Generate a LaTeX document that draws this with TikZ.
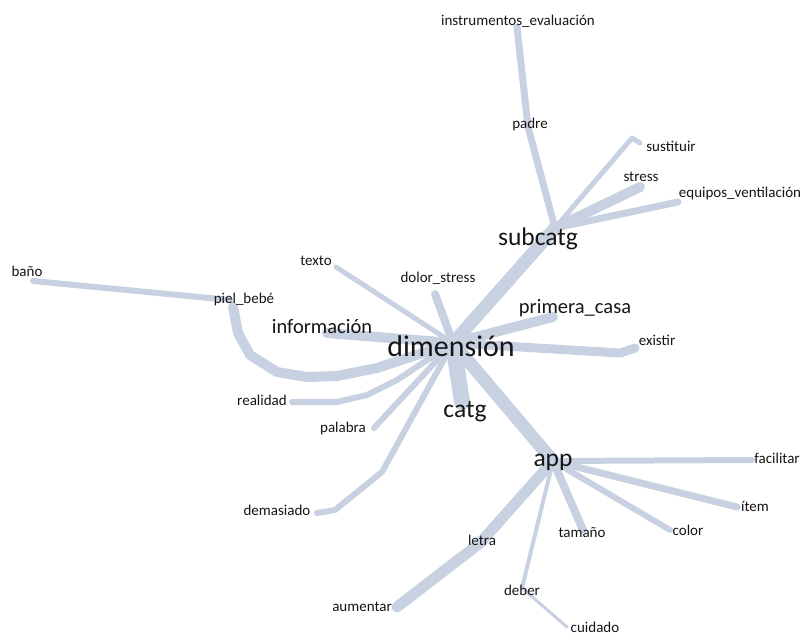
\documentclass[tikz,border=0pt]{standalone}
\usepackage{fontspec}
\setmainfont{Carlito}
\definecolor{edgec}{HTML}{C8D1E1}
\definecolor{txtc}{HTML}{151515}
\tikzset{
  conn/.style={draw=edgec, line cap=round, line join=round},
  lbl/.style={text=txtc, inner sep=0pt, anchor=base, yshift=-3.5pt, font=\fontsize{15}{15}\selectfont},
  lblm/.style={text=txtc, inner sep=0pt, anchor=base, yshift=-4.8pt, font=\fontsize{20.5}{20.5}\selectfont},
  lblb/.style={text=txtc, inner sep=0pt, anchor=base, yshift=-6pt, font=\fontsize{25.5}{25.5}\selectfont},
  lblh/.style={text=txtc, inner sep=0pt, anchor=base, yshift=-7pt, font=\fontsize{30}{30}\selectfont},
}
\begin{document}
\begin{tikzpicture}[x=1pt,y=-1pt]
\useasboundingbox (0,0) rectangle (805,637);
% hubs and end points
\coordinate (H) at (453,343);
\coordinate (A) at (553,461);
\coordinate (S) at (555,228);
\coordinate (eTexto) at (336,267);
\coordinate (eDolor) at (435,294);
\coordinate (eInfo) at (327,333);
\coordinate (eBebe) at (233,307);
\coordinate (eBebeTop) at (230,300);
\coordinate (eBano) at (33,281);
\coordinate (eReal) at (292,402);
\coordinate (ePal) at (374,428);
\coordinate (eDem) at (317,513);
\coordinate (eCatg) at (462,402);
\coordinate (ePrim) at (553,317);
\coordinate (eExist) at (635,348);
\coordinate (eFac) at (752,460);
\coordinate (eItem) at (737,507);
\coordinate (eColor) at (670,530);
\coordinate (eTam) at (583,530);
\coordinate (eDeber) at (522,588);
\coordinate (eLetra) at (480,543);
\coordinate (eAum) at (397,607);
\coordinate (eCuid) at (567,627);
\coordinate (ePadre) at (528,127);
\coordinate (eInstr) at (517,27);
\coordinate (eSust) at (640,143);
\coordinate (eStress) at (640,187);
\coordinate (eEquip) at (678,202);

% connectors from dimension
\draw[conn, line width=5] (H) -- (eTexto);
\draw[conn, line width=8] (H) -- (eDolor);
\draw[conn, line width=10] (H) -- (eInfo);
\draw[conn, line width=10] (H) -- (377,368) -- (337,376) -- (307,377) -- (277,372) -- (250,355) -- (238,333) -- (eBebe);
\draw[conn, line width=6] (eBebeTop) -- (eBano);
\draw[conn, line width=6] (H) -- (397,380) -- (367,395) -- (337,402) -- (eReal);
\draw[conn, line width=6] (H) -- (ePal);
\draw[conn, line width=6] (H) -- (382,472) -- (335,510) -- (eDem);
\draw[conn, line width=16] (H) -- (eCatg);
\draw[conn, line width=13] (H) -- (A);
\draw[conn, line width=13] (H) -- (S);
\draw[conn, line width=10] (H) -- (ePrim);
\draw[conn, line width=9] (H) -- (620,353) -- (eExist);
% connectors from app
\draw[conn, line width=6] (A) -- (eFac);
\draw[conn, line width=7] (A) -- (eItem);
\draw[conn, line width=6] (A) -- (eColor);
\draw[conn, line width=8] (A) -- (eTam);
\draw[conn, line width=4] (A) -- (eDeber);
\draw[conn, line width=11] (A) -- (eLetra) -- (eAum);
\draw[conn, line width=3] (eDeber) -- (eCuid);
% connectors from subcatg
\draw[conn, line width=7] (S) -- (ePadre) -- (eInstr);
\draw[conn, line width=5] (S) -- (632,138) -- (eSust);
\draw[conn, line width=10] (S) -- (eStress);
\draw[conn, line width=7] (S) -- (eEquip);

% labels
\node[lbl] (bano) at (27,273) {baño};
\node[lbl] (piel) at (244,300) {piel\_bebé};
\node[lbl] (texto) at (316,262) {texto};
\node[lbl] (dolor) at (438,279) {dolor\_stress};
\node[lblm] (info) at (322,329) {información};
\node[lblh] (dim) at (451,349) {dimensión};
\node[lblm] (prim) at (575,309) {primera\_casa};
\node[lbl] (exist) at (657,342) {existir};
\node[lblb] (subcatg) at (538,239) {subcatg};
\node[lbl] (instr) at (518,22) {instrumentos\_evaluación};
\node[lbl] (padre) at (530,125) {padre};
\node[lbl] (sust) at (671,148) {sustituir};
\node[lbl] (stress) at (641,178) {stress};
\node[lbl] (equip) at (740,194) {equipos\_ventilación};
\node[lbl] (real) at (262,402) {realidad};
\node[lbl] (pal) at (343,429) {palabra};
\node[lbl] (dem) at (277,512) {demasiado};
\node[lblb] (catg) at (465,411) {catg};
\node[lblb] (app) at (553,460) {app};
\node[lbl] (fac) at (777,460) {facilitar};
\node[lbl] (item) at (755,508) {ítem};
\node[lbl] (color) at (688,532) {color};
\node[lbl] (tam) at (582,534) {tamaño};
\node[lbl] (letra) at (482,542) {letra};
\node[lbl] (aum) at (362,608) {aumentar};
\node[lbl] (deber) at (522,592) {deber};
\node[lbl] (cuid) at (595,629) {cuidado};
\end{tikzpicture}
\end{document}
